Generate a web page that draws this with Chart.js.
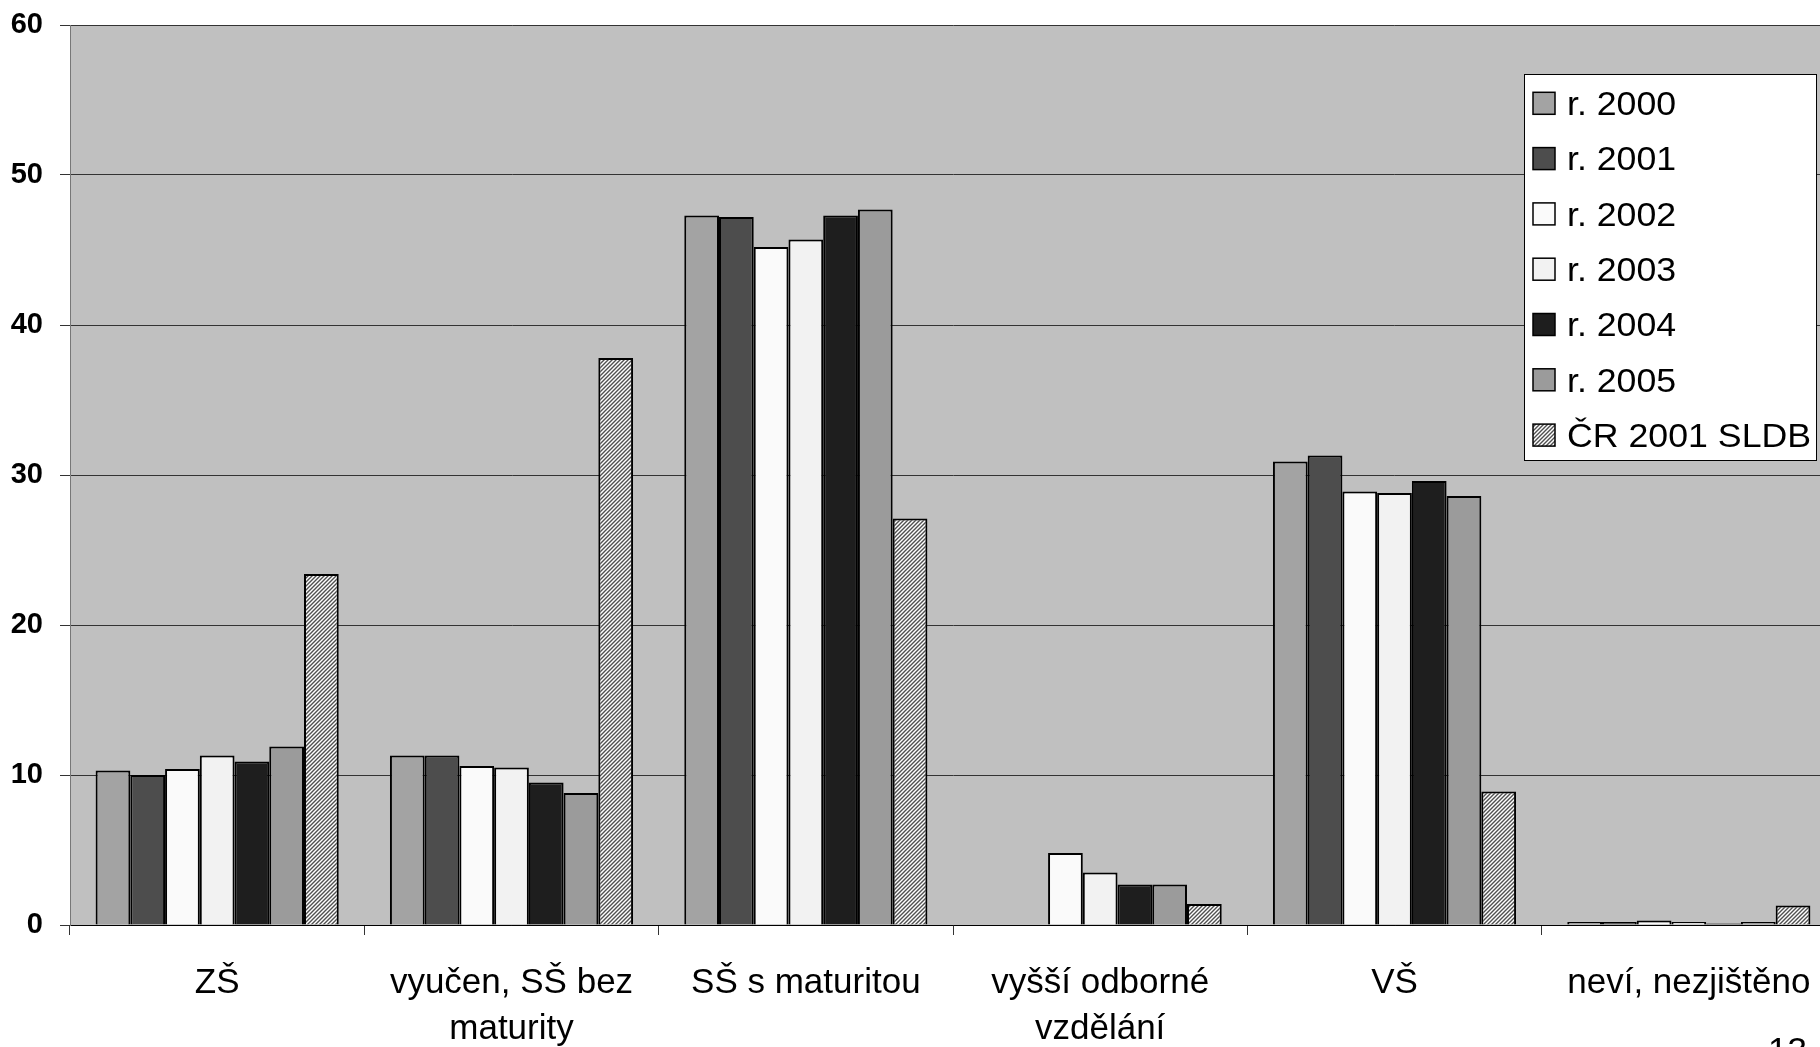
<!DOCTYPE html>
<html><head><meta charset="utf-8">
<script src="https://cdn.jsdelivr.net/npm/chart.js@4/dist/chart.umd.min.js"></script>
<style>
html,body{margin:0;padding:0;background:#fff;overflow:hidden;width:1820px;height:1047px;}
#wrap{position:absolute;left:0;top:0;width:1836px;height:1047px;}
#pg{position:absolute;left:1768px;top:1032px;font-family:'Liberation Sans',Arial,sans-serif;font-size:35px;line-height:35px;color:#000;}
</style></head><body>
<div id="wrap"><canvas id="c" width="1836" height="1047"></canvas></div>
<div id="pg">13</div>
<script>
const categories = [['ZŠ'], ['vyučen, SŠ bez', 'maturity'], ['SŠ s maturitou'], ['vyšší odborné', 'vzdělání'], ['VŠ'], ['neví, nezjištěno']];
const seriesNames = ['r. 2000', 'r. 2001', 'r. 2002', 'r. 2003', 'r. 2004', 'r. 2005', 'ČR 2001 SLDB'];
const v2000 = [10.3, 11.3, 47.3, null, 30.9, 0.2];
const v2001 = [10.0, 11.3, 47.2, null, 31.3, 0.2];
const v2002 = [10.4, 10.6, 45.2, 4.8, 28.9, 0.3];
const v2003 = [11.3, 10.5, 45.7, 3.5, 28.8, 0.2];
const v2004 = [10.9, 9.5, 47.3, 2.7, 29.6, 0.1];
const v2005 = [11.9, 8.8, 47.7, 2.7, 28.6, 0.2];
const vSLDB = [23.4, 37.8, 27.1, 1.4, 8.9, 1.3];
const yTicks = [0, 10, 20, 30, 40, 50, 60];

const FONT = "'Liberation Sans', Arial, sans-serif";
const ctx = document.getElementById('c').getContext('2d');

function hatch() {
  const p = document.createElement('canvas');
  p.width = 4; p.height = 4;
  const g = p.getContext('2d');
  g.fillStyle = '#ffffff'; g.fillRect(0, 0, 4, 4);
  g.strokeStyle = '#505050'; g.lineWidth = 1.4;
  g.beginPath();
  g.moveTo(-1, 5); g.lineTo(5, -1);
  g.moveTo(-1, 1); g.lineTo(1, -1);
  g.moveTo(3, 5); g.lineTo(5, 3);
  g.stroke();
  return ctx.createPattern(p, 'repeat');
}

const fills = ['#a3a3a3', '#4d4d4d', '#fafafa', '#f2f2f2', '#1e1e1e', '#9b9b9b', hatch()];
const seriesValues = [v2000, v2001, v2002, v2003, v2004, v2005, vSLDB];

const datasets = seriesValues.map((vals, i) => ({
  label: seriesNames[i],
  data: vals,
  backgroundColor: fills[i],
  borderColor: '#000',
  borderWidth: 2,
  categoryPercentage: 0.826,
  barPercentage: 1.0
}));

const bgPlugin = {
  id: 'plotBg',
  beforeDraw(chart) {
    const a = chart.chartArea, c = chart.ctx;
    c.save(); c.fillStyle = '#c0c0c0';
    c.fillRect(a.left, a.top, a.right - a.left, a.bottom - a.top);
    c.restore();
  }
};

const legendPlugin = {
  id: 'boxLegend',
  afterDraw(chart) {
    const c = chart.ctx;
    c.save();
    const x0 = 1524.5, y0 = 74.5, w = 292, h = 386;
    c.fillStyle = '#fff'; c.fillRect(x0, y0, w, h);
    c.strokeStyle = '#000'; c.lineWidth = 1; c.strokeRect(x0, y0, w, h);
    chart.data.datasets.forEach((ds, i) => {
      const cy = 103.3 + i * 55.3;
      c.fillStyle = ds.backgroundColor;
      c.fillRect(1533, cy - 11, 22, 22);
      c.lineWidth = 1.5; c.strokeStyle = '#000';
      c.strokeRect(1533, cy - 11, 22, 22);
      c.save();
      c.translate(1567, cy + 11.8);
      c.scale(1.05, 1);
      c.fillStyle = '#000';
      c.font = '34px ' + FONT;
      c.textBaseline = 'alphabetic'; c.textAlign = 'left';
      c.fillText(ds.label, 0, 0);
      c.restore();
    });
    c.restore();
  }
};

new Chart(ctx, {
  type: 'bar',
  data: { labels: categories, datasets },
  plugins: [bgPlugin, legendPlugin],
  options: {
    responsive: false,
    animation: false,
    layout: { padding: { top: 25, right: 0, left: 0, bottom: 0 } },
    plugins: { legend: { display: false }, tooltip: { enabled: false } },
    scales: {
      x: {
        afterFit(s) { s.height = 122; s.paddingLeft = 0; s.paddingRight = 0; },
        grid: { display: true, drawOnChartArea: false, drawTicks: true, tickLength: 10, offset: true, color: '#333', lineWidth: 1 },
        border: { display: true, color: '#000', width: 1 },
        ticks: { color: '#000', font: { family: FONT, size: 35, lineHeight: 1.33 }, padding: 25, maxRotation: 0, autoSkip: false }
      },
      y: {
        min: yTicks[0], max: yTicks[yTicks.length - 1],
        afterFit(s) { s.width = 70; s.paddingTop = 0; s.paddingBottom = 0; },
        grid: { color: '#333', lineWidth: 1, tickLength: 10, drawTicks: true },
        border: { display: true, color: '#777', width: 1 },
        ticks: { stepSize: yTicks[1] - yTicks[0], color: '#000', font: { family: FONT, size: 29, weight: 'bold' }, padding: 17 }
      }
    }
  }
});
</script>
</body></html>
